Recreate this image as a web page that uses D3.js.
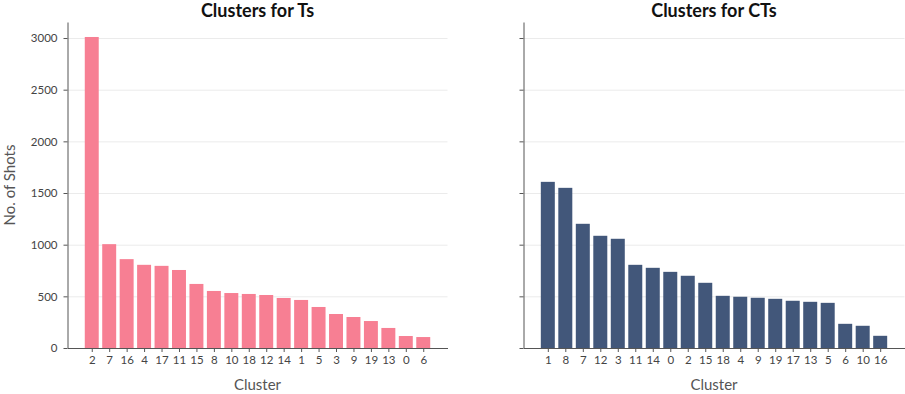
<!DOCTYPE html>
<html>
<head>
<meta charset="utf-8">
<script src="https://cdn.jsdelivr.net/npm/d3@7"></script>
<style>
  body { margin: 0; background: #fff; }
  text { font-family: Lato, "Noto Sans", sans-serif; }
  .ejes path, .ejes line { stroke: #555; }
  .ejes text { fill: #444; font-size: 11.5px; }
  .grid line { stroke: #ebebeb; }
  .grid path { display: none; }
  .titulo { font-size: 18px; font-weight: bold; fill: #111; }
  .labels { font-size: 15px; fill: #555; }
</style>
</head>
<body>
<div id="graf"></div>
<script>
// clusters for Ts
const clustersT = ["2", "7", "16", "4", "17", "11", "15", "8", "10", "18", "12", "14", "1", "5", "3", "9", "19", "13", "0", "6"]
const shotsT = [3010, 1005, 860, 805, 795, 755, 620, 552, 532, 523, 513, 484, 465, 397, 329, 300, 261, 194, 116, 106]

// clusters for CTs
const clustersCT = ["1", "8", "7", "12", "3", "11", "14", "0", "2", "15", "18", "4", "9", "19", "17", "13", "5", "6", "10", "16"]
const shotsCT = [1608, 1550, 1202, 1086, 1057, 805, 776, 737, 699, 631, 505, 496, 486, 476, 457, 447, 437, 234, 215, 118]

const yTicks = [0, 500, 1000, 1500, 2000, 2500, 3000]

const anchoTotal = 905
const altoTotal = 394
const alto = 326
const top0 = 22

const svg = d3.select("#graf")
  .append("svg")
  .attr("width", anchoTotal)
  .attr("height", altoTotal)

const y = d3.scaleLinear().domain([0, 3155]).range([alto, 0])

const panel = (left, ancho, cats, vals, color, titulo, conLabels) => {
  const g = svg.append("g").attr("transform", `translate(${left}, ${top0})`)

  const x = d3.scaleLinear().domain([-1.39, cats.length - 1 + 1.39]).range([0, ancho])

  g.append("g")
    .attr("class", "grid")
    .call(d3.axisLeft(y).tickValues(yTicks).tickSize(-ancho).tickFormat(""))

  g.selectAll("rect.bar").data(vals)
    .enter()
    .append("rect")
    .attr("class", "bar")
    .attr("x", (d, i) => x(i - 0.4))
    .attr("width", x(0.4) - x(-0.4))
    .attr("y", (d) => y(d))
    .attr("height", (d) => alto - y(d))
    .attr("fill", color)

  const xAxis = d3.axisBottom(x)
    .tickValues(d3.range(cats.length))
    .tickFormat((i) => cats[i])
    .tickSize(4)
    .tickPadding(4)
    .tickSizeOuter(0)

  g.append("g")
    .attr("class", "ejes")
    .attr("transform", `translate(0, ${alto})`)
    .call(xAxis)

  const yAxis = d3.axisLeft(y)
    .tickValues(yTicks)
    .tickSize(4)
    .tickPadding(6)
    .tickSizeOuter(0)
    .tickFormat(conLabels ? d3.format("d") : "")

  g.append("g").attr("class", "ejes").call(yAxis)

  g.append("text")
    .attr("x", ancho / 2)
    .attr("y", -5)
    .attr("text-anchor", "middle")
    .attr("class", "titulo")
    .text(titulo)

  g.append("text")
    .attr("x", ancho / 2)
    .attr("y", alto + 42)
    .attr("text-anchor", "middle")
    .attr("class", "labels")
    .text("Cluster")

  if (conLabels) {
    g.append("g")
      .attr("transform", `translate(0, ${alto / 2})`)
      .append("text")
      .attr("y", -53)
      .attr("transform", "rotate(-90)")
      .attr("text-anchor", "middle")
      .attr("class", "labels")
      .text("No. of Shots")
  }
}

panel(67.5, 380, clustersT, shotsT, "#f77f93", "Clusters for Ts", true)
panel(523.5, 381, clustersCT, shotsCT, "#42577a", "Clusters for CTs", false)
</script>
</body>
</html>
